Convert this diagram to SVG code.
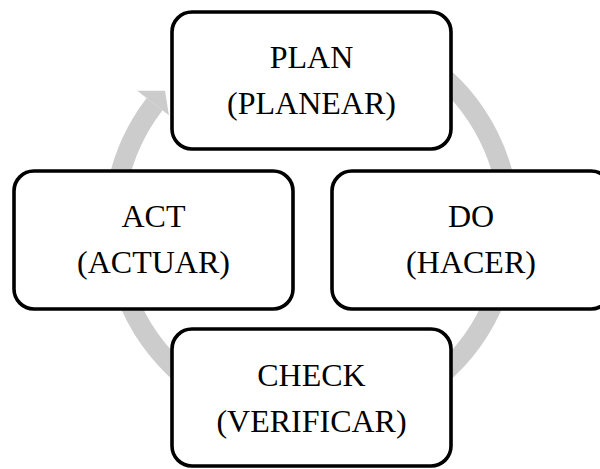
<svg xmlns="http://www.w3.org/2000/svg" width="600" height="469" viewBox="0 0 600 469">
  <style>
    .box { fill: #ffffff; stroke: #000000; stroke-width: 3.6; }
    .lbl { font-family: "Liberation Serif", "Times New Roman", serif; font-size: 32px; fill: #000000; text-anchor: middle; }
    .ring { fill: none; stroke: #cccccc; stroke-width: 20; stroke-linecap: butt; }
    .head { fill: #cccccc; stroke: none; }
  </style>
  <rect x="0" y="0" width="600" height="469" fill="#ffffff"/>
  <g id="connectors">
    <path class="ring" d="M 243.8 38.9 A 198 198 0 1 1 154.6 104.2"/>
    <polygon class="head" points="137.2,90.8 165.0,90.7 168.9,115.2"/>
  </g>
  <g id="node-plan">
    <rect class="box" x="172" y="12" width="279" height="137" rx="20" ry="20"/>
    <text class="lbl" x="311.5" y="68">PLAN</text>
    <text class="lbl" x="311.5" y="113.5">(PLANEAR)</text>
  </g>
  <g id="node-do">
    <rect class="box" x="332" y="171" width="279" height="138" rx="20" ry="20"/>
    <text class="lbl" x="471" y="227">DO</text>
    <text class="lbl" x="471" y="272.5">(HACER)</text>
  </g>
  <g id="node-check">
    <rect class="box" x="172" y="329" width="279" height="137" rx="20" ry="20"/>
    <text class="lbl" x="311.5" y="386">CHECK</text>
    <text class="lbl" x="311.5" y="431.5">(VERIFICAR)</text>
  </g>
  <g id="node-act">
    <rect class="box" x="14" y="171" width="279" height="138" rx="20" ry="20"/>
    <text class="lbl" x="153.5" y="227">ACT</text>
    <text class="lbl" x="153.5" y="272.5">(ACTUAR)</text>
  </g>
</svg>
